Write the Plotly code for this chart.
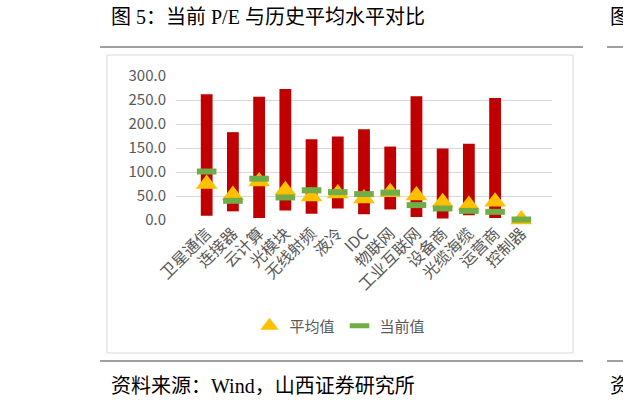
import plotly.graph_objects as go

# ---- data ----
categories = ['卫星通信', '连接器', '云计算', '光模块', '无线射频', '液冷', 'IDC',
              '物联网', '工业互联网', '设备商', '光缆海缆', '运营商', '控制器']
pe_max = [262, 183, 257, 273, 168, 174, 189, 153, 258, 149, 159, 254, None]
pe_min = [9, 18, 4, 20, 13, 24, 12, 22, 6, 3, 10, 4, None]
pe_avg = [75, 52, 80, 62, 49, 55, 45, 58, 51, 37, 31, 38, 1]
pe_cur = [101, 40, 86, 47, 62, 58, 54, 57, 31, 24, 19, 17, 1]
y_ticks = [0, 50, 100, 150, 200, 250, 300]

W, H = 623, 409
L, R, T, B = 176, 552, 76, 220  # plot area in pixels


def px(x):
    return (x - L) / (R - L)


def py(y):
    return (B - y) / (B - T)


GRAY = '#595959'
CHART_FONT = 'Noto Sans CJK SC, Noto Sans, sans-serif'
DOC_FONT = 'Liberation Serif, Noto Sans CJK SC, serif'

span = [None if (a is None or b is None) else a - b for a, b in zip(pe_max, pe_min)]

fig = go.Figure()
fig.add_trace(go.Bar(
    x=categories, y=span, base=pe_min,
    marker=dict(color='#C00000', line=dict(width=0)),
    width=0.45, showlegend=False, hoverinfo='skip'))
fig.add_trace(go.Scatter(
    x=categories, y=pe_avg, mode='markers', name='平均值',
    marker=dict(symbol='triangle-up', size=19, color='#FFC000'),
    cliponaxis=False))
fig.add_trace(go.Scatter(
    x=categories, y=pe_cur, mode='markers', name='当前值',
    marker=dict(symbol='line-ew', size=14, color='#70AD47',
                line=dict(width=6, color='#70AD47')),
    cliponaxis=False))

shapes = [
    # chart frame
    dict(type='rect', xref='paper', yref='paper', x0=px(107), x1=px(573),
         y0=py(353), y1=py(55), line=dict(color='#D9D9D9', width=1), layer='below'),
    # document rules
    dict(type='line', xref='paper', yref='paper', x0=px(100), x1=px(583),
         y0=py(47), y1=py(47), line=dict(color='#7F7F7F', width=1.5)),
    dict(type='line', xref='paper', yref='paper', x0=px(607), x1=px(640),
         y0=py(47), y1=py(47), line=dict(color='#7F7F7F', width=1.5)),
    dict(type='line', xref='paper', yref='paper', x0=px(100), x1=px(583),
         y0=py(361), y1=py(361), line=dict(color='#7F7F7F', width=1.5)),
    dict(type='line', xref='paper', yref='paper', x0=px(607), x1=px(640),
         y0=py(361), y1=py(361), line=dict(color='#7F7F7F', width=1.5)),
]

annotations = [
    dict(text='图 5：当前 P/E 与历史平均水平对比', xref='paper', yref='paper',
         x=px(109), y=py(17), xanchor='left', yanchor='middle', showarrow=False,
         font=dict(family=DOC_FONT, size=20, color='black')),
    dict(text='资料来源：Wind，山西证券研究所', xref='paper', yref='paper',
         x=px(109), y=py(386), xanchor='left', yanchor='middle', showarrow=False,
         font=dict(family=DOC_FONT, size=20, color='black')),
    # edges of the neighbouring figure, cut by the page edge as in the reference
    dict(text='图', xref='paper', yref='paper',
         x=px(608), y=py(17), xanchor='left', yanchor='middle', showarrow=False,
         font=dict(family=DOC_FONT, size=20, color='black')),
    dict(text='资', xref='paper', yref='paper',
         x=px(608), y=py(386), xanchor='left', yanchor='middle', showarrow=False,
         font=dict(family=DOC_FONT, size=20, color='black')),
]

fig.update_layout(
    width=W, height=H,
    margin=dict(l=L, r=W - R, t=T, b=H - B, pad=0),
    paper_bgcolor='white', plot_bgcolor='white',
    font=dict(family=CHART_FONT, color=GRAY),
    shapes=shapes, annotations=annotations,
    legend=dict(orientation='h', x=px(340), y=py(326), xanchor='center',
                yanchor='middle', font=dict(size=15, color=GRAY),
                bgcolor='rgba(0,0,0,0)', itemwidth=30),
    xaxis=dict(type='category', tickangle=-45, showgrid=False, showline=False,
               zeroline=False, ticks='', tickfont=dict(size=16, color=GRAY)),
    yaxis=dict(range=[0, 300], tickvals=y_ticks, tickformat='.1f',
               showgrid=True, gridcolor='#D9D9D9', gridwidth=1,
               zeroline=False, showline=False, ticks='',
               ticklabelstandoff=9,
               tickfont=dict(size=15, color=GRAY)),
)

fig.write_html('out.html')
